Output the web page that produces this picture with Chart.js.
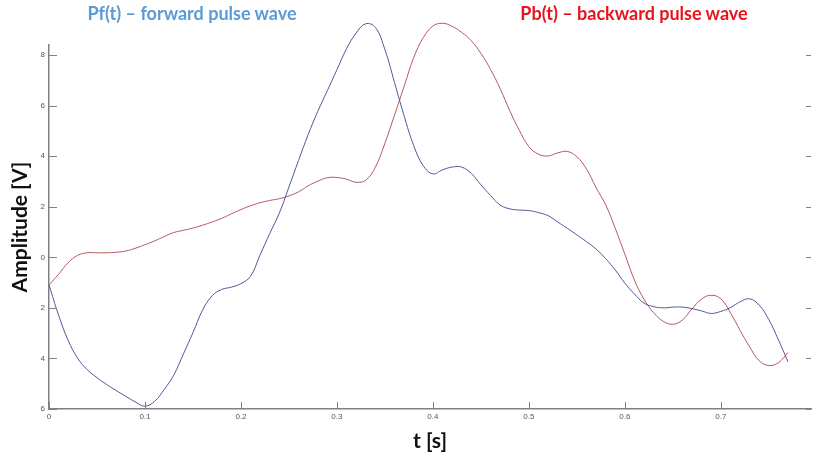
<!DOCTYPE html>
<html>
<head>
<meta charset="utf-8">
<script src="https://cdn.jsdelivr.net/npm/chart.js@4.4.0/dist/chart.umd.min.js"></script>
<style>
  body { margin: 0; background: #fff; }
  #wrap { position: relative; width: 813px; height: 459px; }
  .lbl { position: absolute; top: 2px; transform: translateX(-50%); font: bold 18px Lato, sans-serif; white-space: nowrap; }
</style>
</head>
<body>
<div id="wrap">
  <canvas id="chart" width="813" height="459"></canvas>
  <div class="lbl" style="left:192px;color:#5b9bd5">Pf(t) – forward pulse wave</div>
  <div class="lbl" style="left:634px;color:#e8141c">Pb(t) – backward pulse wave</div>
</div>
<script>
const times = [0, 0.01, 0.02, 0.03, 0.04, 0.05, 0.06, 0.07, 0.08, 0.09,
  0.1, 0.11, 0.12, 0.13, 0.14, 0.15, 0.16, 0.17, 0.18, 0.19,
  0.2, 0.21, 0.22, 0.23, 0.24, 0.25, 0.26, 0.27, 0.28, 0.29,
  0.3, 0.31, 0.32, 0.33, 0.34, 0.35, 0.36, 0.37, 0.38, 0.39,
  0.4, 0.41, 0.42, 0.43, 0.44, 0.45, 0.46, 0.47, 0.48, 0.49,
  0.5, 0.51, 0.52, 0.53, 0.54, 0.55, 0.56, 0.57, 0.58, 0.59,
  0.6, 0.61, 0.62, 0.63, 0.64, 0.65, 0.66, 0.67, 0.68, 0.69,
  0.7, 0.71, 0.72, 0.73, 0.74, 0.75, 0.76, 0.77];

// forward wave
const pf = [-1.09, -2.29, -3.29, -4.00, -4.45, -4.76, -5.03, -5.27, -5.50, -5.72,
  -5.89, -5.70, -5.23, -4.66, -3.83, -2.98, -2.09, -1.52, -1.27, -1.18,
  -1.04, -0.75, 0.10, 0.94, 1.75, 2.78, 3.83, 4.85, 5.77, 6.59,
  7.42, 8.25, 8.87, 9.24, 9.10, 8.22, 6.92, 5.60, 4.42, 3.62,
  3.30, 3.46, 3.57, 3.57, 3.32, 2.87, 2.45, 2.07, 1.92, 1.87,
  1.85, 1.77, 1.65, 1.40, 1.15, 0.89, 0.62, 0.33, -0.05, -0.50,
  -1.02, -1.45, -1.81, -1.95, -2.00, -1.97, -1.97, -2.03, -2.12, -2.22,
  -2.14, -1.99, -1.76, -1.64, -1.89, -2.46, -3.26, -4.13];

// backward wave
const pb = [-1.09, -0.67, -0.21, 0.08, 0.18, 0.18, 0.18, 0.20, 0.25, 0.36,
  0.50, 0.65, 0.82, 0.98, 1.07, 1.16, 1.27, 1.40, 1.54, 1.72,
  1.89, 2.04, 2.16, 2.25, 2.32, 2.43, 2.59, 2.83, 3.01, 3.15,
  3.16, 3.09, 2.97, 3.05, 3.56, 4.51, 5.62, 6.76, 7.90, 8.69,
  9.15, 9.26, 9.14, 8.90, 8.57, 8.07, 7.44, 6.68, 5.81, 5.03,
  4.38, 4.08, 4.01, 4.13, 4.19, 3.98, 3.50, 2.76, 2.08, 1.15,
  0.13, -0.90, -1.66, -2.19, -2.53, -2.65, -2.48, -2.04, -1.65, -1.50,
  -1.64, -2.19, -2.88, -3.54, -4.09, -4.28, -4.17, -3.77];

const xTicks = [0, 0.1, 0.2, 0.3, 0.4, 0.5, 0.6, 0.7];
const yTicks = [-6, -4, -2, 0, 2, 4, 6, 8];

// matlab style ticks pointing into the plot
const innerTicks = {
  id: 'innerTicks',
  afterDraw(chart) {
    const { ctx, chartArea: a, scales: { x, y } } = chart;
    ctx.save();
    ctx.strokeStyle = '#808080';
    ctx.lineWidth = 1;
    ctx.beginPath();
    xTicks.forEach(v => {
      const px = Math.round(x.getPixelForValue(v)) + 0.5;
      ctx.moveTo(px, a.bottom);
      ctx.lineTo(px, a.bottom - 7);
    });
    yTicks.forEach(v => {
      const py = Math.round(y.getPixelForValue(v)) + 0.5;
      ctx.moveTo(a.left, py);
      ctx.lineTo(a.left + 8, py);
      ctx.moveTo(a.right, py);
      ctx.lineTo(a.right - 5, py);
    });
    ctx.stroke();
    ctx.restore();
  }
};

new Chart(document.getElementById('chart'), {
  type: 'line',
  data: {
    datasets: [
      {
        label: 'Pf(t)',
        data: times.map((t, i) => ({ x: t, y: pf[i] })),
        borderColor: '#55559a',
        borderWidth: 1,
        pointRadius: 0,
        tension: 0.4,
        clip: false
      },
      {
        label: 'Pb(t)',
        data: times.map((t, i) => ({ x: t, y: pb[i] })),
        borderColor: '#b5575f',
        borderWidth: 1,
        pointRadius: 0,
        tension: 0.4,
        clip: false
      }
    ]
  },
  options: {
    responsive: false,
    animation: false,
    layout: { padding: { top: 45, right: 2, left: 0, bottom: 0 } },
    plugins: { legend: { display: false }, tooltip: { enabled: false } },
    scales: {
      x: {
        type: 'linear',
        min: 0,
        max: 0.794,
        afterBuildTicks: s => { s.ticks = xTicks.map(v => ({ value: v })); },
        afterFit: s => { s.height = 50; },
        grid: { display: false, drawTicks: false },
        border: { display: true, color: '#808080', width: 1.5 },
        ticks: {
          padding: 3,
          color: '#555',
          font: { family: 'Liberation Sans', size: 8 },
          maxRotation: 0,
          callback: v => String(v)
        },
        title: {
          display: true,
          text: 't [s]',
          color: '#111',
          font: { family: 'Lato', size: 21, weight: 'bold' },
          padding: { top: 0, bottom: 5 }
        }
      },
      y: {
        min: -6,
        max: 8.4,
        afterBuildTicks: s => { s.ticks = yTicks.map(v => ({ value: v })); },
        afterFit: s => { s.width = 49; },
        grid: { display: false, drawTicks: false },
        border: { display: true, color: '#808080', width: 1.5 },
        ticks: {
          padding: 4,
          color: '#555',
          font: { family: 'Liberation Sans', size: 8 },
          callback: v => String(Math.abs(v))
        },
        title: {
          display: true,
          text: 'Amplitude [V]',
          color: '#111',
          font: { family: 'Lato', size: 21, weight: 'bold' },
          padding: { top: 8, bottom: 0 }
        }
      }
    }
  },
  plugins: [innerTicks]
});
</script>
</body>
</html>
